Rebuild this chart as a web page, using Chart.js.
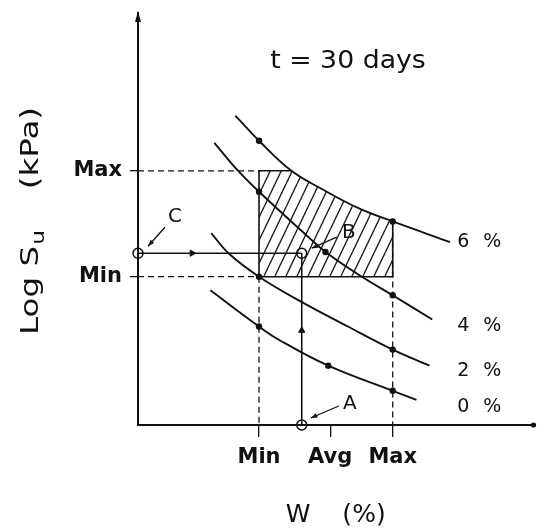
<!DOCTYPE html>
<html>
<head>
<meta charset="utf-8">
<script src="https://cdn.jsdelivr.net/npm/chart.js@4.4.1/dist/chart.umd.min.js"></script>
<style>
  html, body { margin: 0; padding: 0; background: #fff; }
  canvas { display: block; background: #fff; }
</style>
</head>
<body>
<canvas id="chart" width="540" height="530"></canvas>
<script>
// Axis ticks: water content W (%) and log undrained strength
const wTicks = [30.6, 48.6, 64.4];
const wTickLabels = ['Min', 'Avg', 'Max'];
const suTicks = [36, 61.7];
const suTickLabels = ['Min', 'Max'];

// Strength curves after 30 days for each additive content
const curveNames = ['0 %', '2 %', '4 %', '6 %'];
const w0 = [18.3, 30.6, 35.6, 48.1, 64.4, 70.4];
const su0 = [32.7, 23.9, 20.7, 14.4, 8.3, 6.1];
const w2 = [18.5, 23.1, 30.6, 41.1, 53.1, 64.4, 73.7];
const su2 = [46.6, 41.5, 36.0, 30.0, 23.9, 18.3, 14.4];
const w4 = [19.3, 25.1, 30.6, 43.1, 47.4, 56.1, 64.4, 74.4];
const su4 = [68.5, 61.9, 56.6, 45.6, 42.0, 36.3, 31.5, 25.6];
const w6 = [24.6, 30.6, 38.8, 47.4, 55.6, 64.4, 78.9];
const su6 = [75.1, 69.0, 61.7, 56.8, 52.7, 49.4, 44.4];
// indices of the measured (dotted) points on each curve
const measured0 = [1, 3, 4];
const measured2 = [2, 5];
const measured4 = [2, 4, 6];
const measured6 = [1, 5];

// Design path: required strength C and field water content A meet at B
const pointA = [41.4, 0];
const pointB = [41.4, 41.7];
const pointC = [0, 41.7];
const pathLabels = ['A', 'B', 'C'];

const title = 't = 30 days';

// ---- helpers ----
const pts = (xs, ys) => xs.map((v, i) => ({ x: v, y: ys[i] }));
const seg = (x1, y1, x2, y2) => [{ x: x1, y: y1 }, { x: x2, y: y2 }];
const INK = '#111';
const CURVE_TENSION = 0.4;

const canvas = document.getElementById('chart');
const ctx0 = canvas.getContext('2d');

// diagonal hatch used for the acceptable zone
const tile = document.createElement('canvas');
tile.width = 11; tile.height = 23;
const tc = tile.getContext('2d');
tc.strokeStyle = '#1a1a1a';
tc.lineWidth = 1.4;
for (const dx of [-11, 0, 11]) {
  tc.beginPath(); tc.moveTo(dx, 23); tc.lineTo(dx + 11, 0); tc.stroke();
}
const hatch = ctx0.createPattern(tile, 'repeat');

function curveDataset(xs, ys, marks) {
  return {
    data: pts(xs, ys),
    borderColor: INK, borderWidth: 1.9,
    tension: CURVE_TENSION,
    pointRadius: c => marks.includes(c.dataIndex) ? 3.2 : 0,
    pointBackgroundColor: INK, pointBorderColor: INK, pointBorderWidth: 0,
    fill: false, clip: false
  };
}
function guide(data, dashed) {
  return {
    data, borderColor: INK, borderWidth: dashed ? 1.3 : 1.6,
    borderDash: dashed ? [6, 4] : [], tension: 0, pointRadius: 0, fill: false, clip: false
  };
}

const [wMin, , wMax] = wTicks;
const [suMin, suMax] = suTicks;

const datasets = [
  // markers A, B, C
  {
    data: [pointA, pointB, pointC].map(p => ({ x: p[0], y: p[1] })),
    showLine: false, pointStyle: 'circle', pointRadius: 5,
    pointBorderWidth: 1.5, pointBorderColor: INK, pointBackgroundColor: 'rgba(255,255,255,0)', clip: false
  },
  // direction arrows along the path
  {
    data: [
      { x: pointC[0] + 0.33 * (pointB[0] - pointC[0]), y: pointC[1] },
      { x: pointA[0], y: pointA[1] + 0.55 * (pointB[1] - pointA[1]) }
    ],
    showLine: false, pointStyle: 'triangle', pointRotation: [90, 0], pointRadius: 3.6,
    pointBackgroundColor: INK, pointBorderColor: INK, pointBorderWidth: 1, clip: false
  },
  guide(seg(pointC[0], pointC[1], pointB[0], pointB[1]), false),
  guide(seg(pointA[0], pointA[1], pointB[0], pointB[1]), false),
  curveDataset(w0, su0, measured0),
  curveDataset(w2, su2, measured2),
  curveDataset(w4, su4, measured4),
  curveDataset(w6, su6, measured6),
  // outline of the acceptable zone
  guide([
    { x: w6[2], y: suMax }, { x: wMin, y: suMax }, { x: wMin, y: suMin },
    { x: wMax, y: suMin }, { x: wMax, y: su6[5] }
  ], false),
  // dashed reference lines
  guide(seg(0, suMax, wMin, suMax), true),
  guide(seg(0, suMin, wMin, suMin), true),
  guide(seg(wMin, suMin, wMin, 0), true),
  guide(seg(wMax, su6[5], wMax, 0), true),
  // hatched zone under the 6 % curve
  {
    data: pts(w6, su6), tension: CURVE_TENSION,
    borderWidth: 0, borderColor: 'rgba(0,0,0,0)', pointRadius: 0,
    backgroundColor: hatch, fill: { value: suMin }
  }
];

function drawText(ctx, str, x, y, font, align = 'center', stretch = 1, spacing = '0px') {
  ctx.save();
  ctx.translate(x, y);
  ctx.scale(stretch, 1);
  ctx.font = font;
  ctx.letterSpacing = spacing;
  ctx.textAlign = align;
  ctx.textBaseline = 'middle';
  ctx.fillStyle = INK;
  ctx.fillText(str, 0, 0);
  ctx.restore();
}

function leader(ctx, x1, y1, x2, y2) {
  ctx.save();
  ctx.strokeStyle = INK; ctx.fillStyle = INK; ctx.lineWidth = 1.3;
  ctx.beginPath(); ctx.moveTo(x1, y1); ctx.lineTo(x2, y2); ctx.stroke();
  const a = Math.atan2(y2 - y1, x2 - x1);
  ctx.beginPath();
  ctx.moveTo(x2, y2);
  ctx.lineTo(x2 - 7 * Math.cos(a - 0.35), y2 - 7 * Math.sin(a - 0.35));
  ctx.lineTo(x2 - 7 * Math.cos(a + 0.35), y2 - 7 * Math.sin(a + 0.35));
  ctx.closePath(); ctx.fill();
  ctx.restore();
}

const decorations = {
  id: 'decorations',
  // restrict the hatch fill to the Min/Max window
  beforeRender(chart) {
    const { ctx, scales: { x, y } } = chart;
    const l = x.getPixelForValue(wMin), r = x.getPixelForValue(wMax);
    const t = y.getPixelForValue(suMax), b = y.getPixelForValue(suMin);
    ctx.save();
    ctx.beginPath();
    ctx.rect(l, t, r - l, b - t);
    ctx.clip();
  },
  beforeDraw(chart) {
    chart.ctx.restore();
  },
  afterDraw(chart) {
    const { ctx, chartArea: area, scales: { x, y } } = chart;
    const px = v => x.getPixelForValue(v);
    const py = v => y.getPixelForValue(v);

    // arrow on top of the vertical axis, dot at the end of the horizontal axis
    ctx.save();
    ctx.fillStyle = INK;
    ctx.beginPath();
    ctx.moveTo(area.left, area.top - 2);
    ctx.lineTo(area.left - 3, area.top + 9);
    ctx.lineTo(area.left + 3, area.top + 9);
    ctx.closePath(); ctx.fill();
    ctx.beginPath(); ctx.arc(area.right, area.bottom, 2.6, 0, Math.PI * 2); ctx.fill();
    ctx.restore();

    // title
    drawText(ctx, title, px(53.1), py(88.3), '25px "DejaVu Sans"', 'center', 1.07);

    // curve names in a column right of the curves
    const nameSu = [4.4, 13.2, 24.1, 44.4];
    curveNames.forEach((n, i) => drawText(ctx, n, px(80.7), py(nameSu[i]), '19px "DejaVu Sans"', 'left', 1, '4px'));

    // point labels with leaders
    const offs = {
      A: { label: [48, -21], from: [37, -19], to: [9, -7] },
      B: { label: [47, -20], from: [35, -16], to: [10, -5] },
      C: { label: [37, -36], from: [27, -26], to: [10, -7] }
    };
    [pointA, pointB, pointC].forEach((p, i) => {
      const o = offs[pathLabels[i]];
      const cx = px(p[0]), cy = py(p[1]);
      drawText(ctx, pathLabels[i], cx + o.label[0], cy + o.label[1], '19px "DejaVu Sans"', 'center', 1.05);
      leader(ctx, cx + o.from[0], cy + o.from[1], cx + o.to[0], cy + o.to[1]);
    });

    // vertical axis title with subscript
    ctx.save();
    ctx.translate(area.left - 100, area.bottom - 90);
    ctx.rotate(-Math.PI / 2);
    ctx.scale(1.3, 1);
    ctx.fillStyle = INK;
    ctx.textBaseline = 'alphabetic';
    ctx.textAlign = 'left';
    ctx.font = '25px "DejaVu Sans"';
    ctx.fillText('Log S', 0, 0);
    const w1 = ctx.measureText('Log S').width;
    ctx.font = '18px "DejaVu Sans"';
    ctx.fillText('u', w1 + 1, 6);
    ctx.font = '25px "DejaVu Sans"';
    ctx.textAlign = 'right';
    ctx.fillText('(kPa)', 228 / 1.3, 0);
    ctx.restore();
  }
};

const tickFont = { family: 'DejaVu Sans', size: 21, weight: 'bold' };

new Chart(canvas, {
  type: 'line',
  data: { datasets },
  options: {
    responsive: false,
    animation: false,
    events: [],
    layout: { padding: { top: 13, right: 3, left: 0, bottom: 0 } },
    plugins: {
      legend: { display: false },
      tooltip: { enabled: false },
      filler: { drawTime: 'beforeDraw' }
    },
    scales: {
      x: {
        type: 'linear', min: 0, max: 100,
        border: { display: true, color: INK, width: 2 },
        grid: { drawOnChartArea: false, drawTicks: true, tickLength: 12, color: INK, lineWidth: 1.3 },
        afterBuildTicks: s => { s.ticks = wTicks.map(v => ({ value: v })); },
        afterFit: s => { s.height = 105; s.paddingLeft = 0; s.paddingRight = 0; },
        ticks: { font: tickFont, color: INK, padding: 8, callback: (v, i) => wTickLabels[i] },
        title: { display: true, text: 'W    (%)', color: INK, font: { family: 'DejaVu Sans', size: 25 }, padding: { top: 0, bottom: 0 } }
      },
      y: {
        type: 'linear', min: 0, max: 100,
        border: { display: true, color: INK, width: 2 },
        grid: { drawOnChartArea: false, drawTicks: true, tickLength: 8, color: INK, lineWidth: 1.3 },
        afterBuildTicks: s => { s.ticks = suTicks.map(v => ({ value: v })); },
        afterFit: s => { s.width = 138; s.paddingTop = 0; s.paddingBottom = 0; },
        ticks: { font: tickFont, color: INK, padding: 8, callback: (v, i) => suTickLabels[i] }
      }
    }
  },
  plugins: [decorations]
});
</script>
</body>
</html>
